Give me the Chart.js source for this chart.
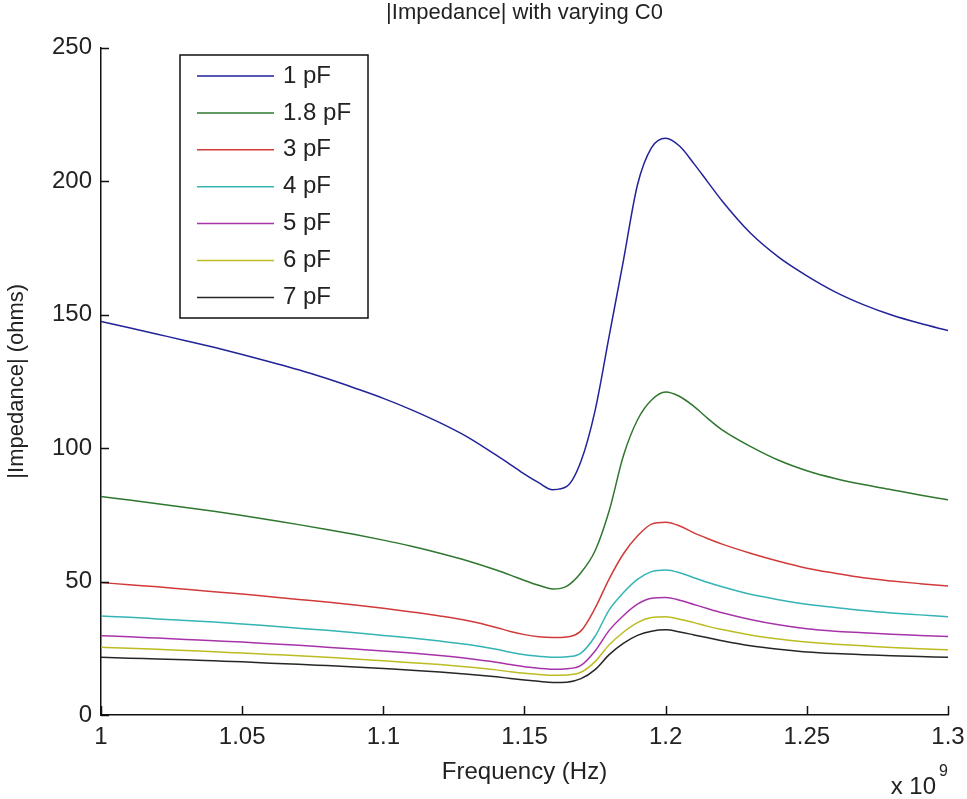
<!DOCTYPE html>
<html>
<head>
<meta charset="utf-8">
<script src="https://cdn.jsdelivr.net/npm/chart.js@4/dist/chart.umd.min.js"></script>
<style>
  html, body { margin: 0; padding: 0; background: #fff; }
  canvas { display: block; }
</style>
</head>
<body>
<canvas id="c" width="967" height="799"></canvas>
<script>
// ---- data (frequency in units of 1e9 Hz) ----
const freq = [1.00, 1.01, 1.02, 1.03, 1.04, 1.05, 1.06, 1.07, 1.08, 1.09, 1.10, 1.11, 1.12, 1.13,
              1.14, 1.145, 1.15, 1.155, 1.16, 1.165, 1.17, 1.175, 1.18, 1.185, 1.19, 1.195, 1.20, 1.205, 1.21, 1.215, 1.22,
              1.23, 1.24, 1.25, 1.26, 1.27, 1.28, 1.29, 1.30];

const seriesLabels = ['1 pF', '1.8 pF', '3 pF', '4 pF', '5 pF', '6 pF', '7 pF'];

const z1pF  = [147.4, 145.0, 142.6, 140.2, 137.7, 135.0, 132.2, 129.3, 126.0, 122.4, 118.6, 114.3, 109.5, 104.0,
               97.3, 93.8, 90.2, 87.0, 84.4, 85.6, 95.0, 114.0, 142.0, 170.0, 198.5, 212.5, 216.0, 213.0, 206.5, 199.5, 192.5,
               180.5, 171.5, 164.5, 158.5, 153.7, 149.8, 146.7, 144.0];
const z18pF = [81.8, 80.5, 79.1, 77.7, 76.3, 74.7, 73.0, 71.3, 69.5, 67.6, 65.5, 63.2, 60.6, 57.7,
               54.3, 52.4, 50.4, 48.6, 47.2, 48.3, 53.3, 61.5, 76.5, 97.0, 110.5, 118.0, 121.0, 119.3, 115.6, 111.0, 106.8,
               100.6, 95.4, 91.5, 88.6, 86.3, 84.4, 82.4, 80.6];
const z3pF  = [49.6, 48.8, 48.0, 47.1, 46.2, 45.3, 44.3, 43.3, 42.3, 41.2, 40.0, 38.6, 37.1, 35.3,
               32.8, 31.3, 30.1, 29.3, 29.0, 29.2, 31.5, 40.0, 51.0, 60.3, 67.0, 71.5, 72.2, 70.8, 68.2, 66.0, 64.0,
               60.6, 57.6, 55.0, 53.1, 51.4, 50.2, 49.2, 48.3];
const z4pF  = [37.1, 36.6, 36.0, 35.4, 34.8, 34.1, 33.3, 32.5, 31.7, 30.8, 29.8, 28.8, 27.7, 26.4,
               24.6, 23.5, 22.6, 22.0, 21.6, 21.8, 23.2, 29.5, 39.4, 45.8, 50.8, 53.7, 54.3, 53.3, 51.4, 49.6, 48.0,
               45.2, 43.2, 41.5, 40.3, 39.1, 38.2, 37.5, 36.8];
const z5pF  = [29.7, 29.3, 28.8, 28.3, 27.8, 27.3, 26.7, 26.1, 25.4, 24.7, 24.0, 23.2, 22.3, 21.2,
               19.8, 18.9, 18.1, 17.5, 17.1, 17.3, 18.6, 24.0, 31.7, 37.2, 41.5, 43.7, 44.0, 43.0, 41.4, 39.8, 38.3,
               35.8, 33.8, 32.3, 31.4, 30.8, 30.2, 29.8, 29.4];
const z6pF  = [25.4, 25.0, 24.6, 24.2, 23.7, 23.2, 22.7, 22.2, 21.6, 21.0, 20.3, 19.6, 18.9, 18.0,
               16.9, 16.2, 15.6, 15.2, 14.9, 15.0, 16.0, 20.0, 26.3, 31.0, 34.6, 36.5, 36.8, 35.9, 34.6, 33.2, 32.0,
               30.0, 28.5, 27.3, 26.5, 25.9, 25.3, 24.8, 24.4];
const z7pF  = [21.6, 21.3, 21.0, 20.7, 20.3, 19.9, 19.4, 19.0, 18.5, 18.0, 17.4, 16.8, 16.1, 15.3,
               14.3, 13.7, 13.1, 12.6, 12.2, 12.3, 13.6, 17.0, 22.6, 26.8, 29.8, 31.4, 31.9, 31.1, 30.0, 28.9, 27.8,
               25.9, 24.6, 23.6, 23.0, 22.6, 22.2, 21.9, 21.6];

const xTickValues = [1.00, 1.05, 1.10, 1.15, 1.20, 1.25, 1.30];
const xTickLabels = ['1', '1.05', '1.1', '1.15', '1.2', '1.25', '1.3'];
const yTickValues = [0, 50, 100, 150, 200, 250];
const yTickLabels = ['0', '50', '100', '150', '200', '250'];

const titleText = '|Impedance| with varying C0';
const xTitle = 'Frequency (Hz)';
const yTitle = '|Impedance| (ohms)';
const xExponentBase = 'x 10';
const xExponent = '9';

// ---- styles ----
const allSeries = [z1pF, z18pF, z3pF, z4pF, z5pF, z6pF, z7pF];
const colors = ['#22229a', '#2f772f', '#d23a3a', '#34b4b4', '#a833a8', '#bcbc22', '#262626'];
const FONT = "'Liberation Sans', Arial, sans-serif";
const FS = 24;

const datasets = allSeries.map((vals, i) => ({
  label: seriesLabels[i],
  data: freq.map((f, j) => ({ x: f, y: vals[j] })),
  borderColor: colors[i],
  backgroundColor: colors[i],
  borderWidth: 1.5,
  pointRadius: 0,
  fill: false,
  cubicInterpolationMode: 'monotone'
}));

const decorPlugin = {
  id: 'decor',
  afterDraw(chart) {
    const ctx = chart.ctx;
    const ca = chart.chartArea;
    const xs = chart.scales.x, ys = chart.scales.y;
    ctx.save();
    // inward tick marks
    ctx.strokeStyle = '#111';
    ctx.lineWidth = 1.5;
    xTickValues.forEach(v => {
      const px = Math.round(xs.getPixelForValue(v)) + 0.5;
      ctx.beginPath(); ctx.moveTo(px, ca.bottom); ctx.lineTo(px, ca.bottom - 9); ctx.stroke();
    });
    yTickValues.forEach(v => {
      const py = Math.round(ys.getPixelForValue(v)) + 0.5;
      ctx.beginPath(); ctx.moveTo(ca.left, py); ctx.lineTo(ca.left + 8, py); ctx.stroke();
    });
    // title
    ctx.fillStyle = '#222';
    ctx.font = `${FS - 2}px ${FONT}`;
    ctx.textAlign = 'center';
    ctx.textBaseline = 'middle';
    ctx.fillText(titleText, (ca.left + ca.right) / 2, 13);
    // exponent label
    ctx.font = `${FS}px ${FONT}`;
    ctx.textAlign = 'right';
    ctx.fillText(xExponentBase, ca.right - 12, 787);
    ctx.font = `${FS - 8}px ${FONT}`;
    ctx.textAlign = 'left';
    ctx.fillText(xExponent, ca.right - 9, 772);
    // legend box
    const bx = ca.left + 79, by = ca.top + 7.5, bw = 188, bh = 263;
    ctx.fillStyle = '#fff';
    ctx.fillRect(bx, by, bw, bh);
    ctx.strokeStyle = '#111';
    ctx.lineWidth = 1.5;
    ctx.strokeRect(bx, by, bw, bh);
    ctx.font = `${FS}px ${FONT}`;
    ctx.textBaseline = 'middle';
    ctx.textAlign = 'left';
    chart.data.datasets.forEach((ds, i) => {
      const yy = by + 21 + i * 36.9;
      ctx.strokeStyle = ds.borderColor;
      ctx.lineWidth = 1.5;
      ctx.beginPath(); ctx.moveTo(bx + 17, yy); ctx.lineTo(bx + 94, yy); ctx.stroke();
      ctx.fillStyle = '#222';
      ctx.fillText(ds.label, bx + 103, yy);
    });
    ctx.restore();
  }
};

new Chart(document.getElementById('c'), {
  type: 'line',
  data: { datasets },
  options: {
    responsive: false,
    animation: false,
    events: [],
    layout: { padding: { left: 0, right: 19, top: 47.5, bottom: 0 } },
    plugins: { legend: { display: false }, tooltip: { enabled: false }, title: { display: false } },
    scales: {
      x: {
        type: 'linear',
        min: 1.0, max: 1.3,
        afterBuildTicks: s => { s.ticks = xTickValues.map(v => ({ value: v })); },
        afterFit: s => { s.height = 84; s.paddingLeft = 0; s.paddingRight = 0; },
        grid: { display: false, drawTicks: false },
        border: { display: true, color: '#111', width: 1.5 },
        ticks: {
          color: '#222', padding: 8, maxRotation: 0, autoSkip: false,
          font: { family: FONT, size: FS },
          callback: (v, i) => xTickLabels[i]
        },
        title: { display: true, text: xTitle, color: '#222', font: { family: FONT, size: FS }, padding: { top: 0, bottom: 12 } }
      },
      y: {
        type: 'linear',
        min: 0, max: 250,
        afterBuildTicks: s => { s.ticks = yTickValues.map(v => ({ value: v })); },
        afterFit: s => { s.width = 101; s.paddingTop = 0; s.paddingBottom = 0; },
        grid: { display: false, drawTicks: false },
        border: { display: true, color: '#111', width: 1.5 },
        ticks: {
          color: '#222', padding: 9, autoSkip: false,
          font: { family: FONT, size: FS },
          callback: (v, i) => yTickLabels[i]
        },
        title: { display: true, text: yTitle, color: '#222', font: { family: FONT, size: FS - 2 }, padding: { top: 4, bottom: 0 } }
      }
    }
  },
  plugins: [decorPlugin]
});
</script>
</body>
</html>
